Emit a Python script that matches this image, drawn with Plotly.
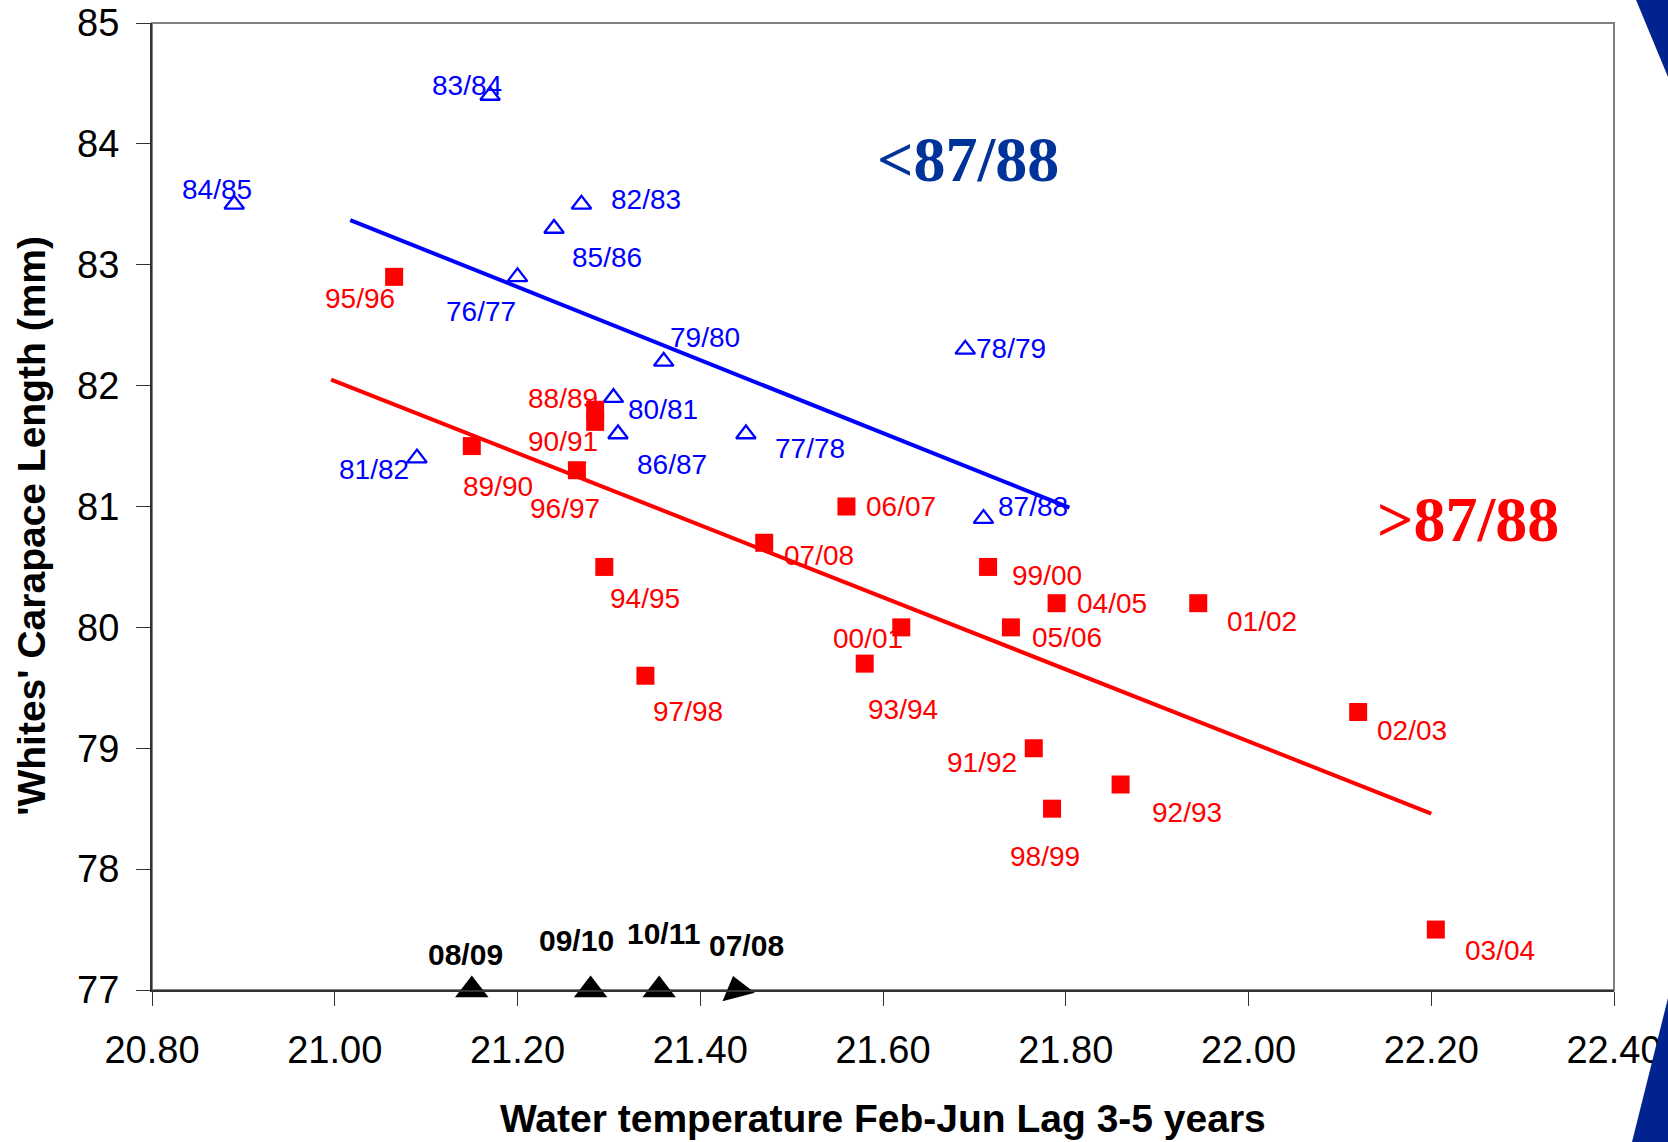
import plotly.graph_objects as go

# ---------------- data ----------------
blue_labels = ["76/77", "77/78", "78/79", "79/80", "80/81", "81/82",
               "82/83", "83/84", "84/85", "85/86", "86/87", "87/88"]
blue_x = [21.20, 21.45, 21.69, 21.36, 21.305, 21.09,
          21.27, 21.17, 20.89, 21.24, 21.31, 21.71]
blue_y = [82.9, 81.6, 82.3, 82.2, 81.9, 81.4,
          83.5, 84.4, 83.5, 83.3, 81.6, 80.9]

red_labels = ["88/89", "89/90", "90/91", "91/92", "92/93", "93/94", "94/95",
              "95/96", "96/97", "97/98", "98/99", "99/00", "00/01", "01/02",
              "02/03", "03/04", "04/05", "05/06", "06/07", "07/08"]
red_x = [21.285, 21.15, 21.285, 21.765, 21.86, 21.58, 21.295,
         21.065, 21.265, 21.34, 21.785, 21.715, 21.62, 21.945,
         22.12, 22.205, 21.79, 21.74, 21.56, 21.47]
red_y = [81.8, 81.5, 81.7, 79.0, 78.7, 79.7, 80.5,
         82.9, 81.3, 79.6, 78.5, 80.5, 80.0, 80.2,
         79.3, 77.5, 80.2, 80.0, 81.0, 80.7]

black_labels = ["08/09", "09/10", "10/11", "07/08"]
black_x = [21.15, 21.28, 21.355, 21.44]
black_y = [77, 77, 77, 77]

blue_fit_x = [21.017, 21.804]
blue_fit_y = [83.37, 80.99]
red_fit_x = [20.996, 22.200]
red_fit_y = [82.05, 78.46]

x_ticks = [20.8, 21.0, 21.2, 21.4, 21.6, 21.8, 22.0, 22.2, 22.4]
y_ticks = [77, 78, 79, 80, 81, 82, 83, 84, 85]

# ---------------- label offsets (px; dx right, dy down) ----------------
blue_off = {"76/77": (-37, 35), "77/78": (64, 15), "78/79": (46, -1),
            "79/80": (41, -24), "80/81": (50, 12), "81/82": (-43, 11),
            "82/83": (65, -5), "83/84": (-23, -10), "84/85": (-17, -15),
            "85/86": (53, 29), "86/87": (54, 31), "87/88": (49, -12)}
red_off = {"88/89": (-32, -11), "89/90": (26, 40), "90/91": (-32, 20),
           "91/92": (-52, 14), "92/93": (66, 28), "93/94": (38, 46),
           "94/95": (41, 32), "95/96": (-34, 22), "96/97": (-12, 38),
           "97/98": (43, 36), "98/99": (-7, 48), "99/00": (59, 9),
           "00/01": (-33, 11), "01/02": (64, 18), "02/03": (54, 19),
           "03/04": (64, 21), "04/05": (55, 0), "05/06": (56, 10),
           "06/07": (55, 0), "07/08": (55, 13)}
black_off = [(-6, -36), (-14, -50), (4, -57), (10, -45)]

BLUE = "#0000ff"
RED = "#ff0000"
FONT = "Liberation Sans, Arial, sans-serif"

fig = go.Figure()

fig.add_trace(go.Scatter(x=blue_fit_x, y=blue_fit_y, mode="lines",
                         line=dict(color=BLUE, width=4), showlegend=False))
fig.add_trace(go.Scatter(x=red_fit_x, y=red_fit_y, mode="lines",
                         line=dict(color=RED, width=4), showlegend=False))
fig.add_trace(go.Scatter(x=blue_x, y=blue_y, mode="markers",
                         marker=dict(symbol="triangle-up-open", size=17, color=BLUE,
                                     line=dict(width=2.3, color=BLUE)),
                         showlegend=False))
fig.add_trace(go.Scatter(x=red_x, y=red_y, mode="markers",
                         marker=dict(symbol="square", size=18, color=RED,
                                     line=dict(width=0)),
                         showlegend=False))
fig.add_trace(go.Scatter(x=black_x, y=black_y, mode="markers", cliponaxis=False,
                         marker=dict(symbol="triangle-up", size=29, color="black",
                                     angle=[0, 0, 0, -15], line=dict(width=0)),
                         showlegend=False))

annotations = []
for lab, x, y in zip(blue_labels, blue_x, blue_y):
    dx, dy = blue_off[lab]
    annotations.append(dict(x=x, y=y, xref="x", yref="y", text=lab, showarrow=False,
                            xshift=dx, yshift=-dy,
                            font=dict(family=FONT, size=28, color=BLUE)))
for lab, x, y in zip(red_labels, red_x, red_y):
    dx, dy = red_off[lab]
    annotations.append(dict(x=x, y=y, xref="x", yref="y", text=lab, showarrow=False,
                            xshift=dx, yshift=-dy,
                            font=dict(family=FONT, size=28, color=RED)))
for lab, x, y, (dx, dy) in zip(black_labels, black_x, black_y, black_off):
    annotations.append(dict(x=x, y=y, xref="x", yref="y", text="<b>%s</b>" % lab,
                            showarrow=False, xshift=dx, yshift=-dy,
                            font=dict(family=FONT, size=30, color="black")))

annotations.append(dict(x=21.693, y=83.87, xref="x", yref="y", text="<b><87/88</b>",
                        showarrow=False,
                        font=dict(family="Liberation Serif, Times New Roman, serif",
                                  size=64, color="#003399")))
annotations.append(dict(x=22.24, y=80.89, xref="x", yref="y", text="<b>>87/88</b>",
                        showarrow=False,
                        font=dict(family="Liberation Serif, Times New Roman, serif",
                                  size=64, color=RED)))

annotations.append(dict(x=0.5, y=-0.1334, xref="paper", yref="paper",
                        text="<b>Water temperature Feb-Jun Lag 3-5 years</b>",
                        showarrow=False, yanchor="middle",
                        font=dict(family=FONT, size=39, color="black")))
annotations.append(dict(x=-0.0821, y=0.48, xref="paper", yref="paper",
                        text="<b>'Whites' Carapace Length (mm)</b>", textangle=-90,
                        showarrow=False, xanchor="center", yanchor="middle",
                        font=dict(family=FONT, size=39, color="black")))

L, R, T, B = 152, 54, 23, 152
W, H = 1668, 1142
pw, ph = W - L - R, H - T - B


def px(xp):
    return (xp - L) / pw


def py(yp):
    return (H - B - yp) / ph


shapes = [
    dict(type="rect", xref="paper", yref="paper", x0=0, x1=1, y0=0, y1=1,
         line=dict(color="#808080", width=2), layer="below"),
    dict(type="path", xref="paper", yref="paper", layer="above",
         path="M %f,%f L %f,%f L %f,%f Z" % (px(1634), py(-5), px(1690), py(-5),
                                              px(1690), py(130)),
         fillcolor="#00238f", line=dict(width=0)),
    dict(type="path", xref="paper", yref="paper", layer="above",
         path="M %f,%f L %f,%f L %f,%f L %f,%f Z" % (px(1670), py(990), px(1690), py(990),
                                                      px(1690), py(1150), px(1630), py(1150)),
         fillcolor="#00238f", line=dict(width=0)),
]

fig.update_layout(
    width=W, height=H,
    margin=dict(l=L, r=R, t=T, b=B, pad=0),
    paper_bgcolor="white", plot_bgcolor="white",
    annotations=annotations, shapes=shapes,
    xaxis=dict(range=[20.8, 22.4], tickvals=x_ticks,
               ticktext=["%.2f" % v for v in x_ticks],
               showgrid=False, zeroline=False, showline=True,
               linecolor="#333333", linewidth=2,
               ticks="outside", ticklen=14, tickwidth=1, tickcolor="#333333",
               tickfont=dict(family=FONT, size=38, color="black"),
               ticklabelstandoff=11, automargin=False),
    yaxis=dict(range=[77, 85], tickvals=y_ticks,
               showgrid=False, zeroline=False, showline=True,
               linecolor="#333333", linewidth=2,
               ticks="outside", ticklen=14, tickwidth=1, tickcolor="#333333",
               tickfont=dict(family=FONT, size=38, color="black"),
               ticklabelstandoff=9, automargin=False),
    showlegend=False,
)

fig.write_html("out.html")
